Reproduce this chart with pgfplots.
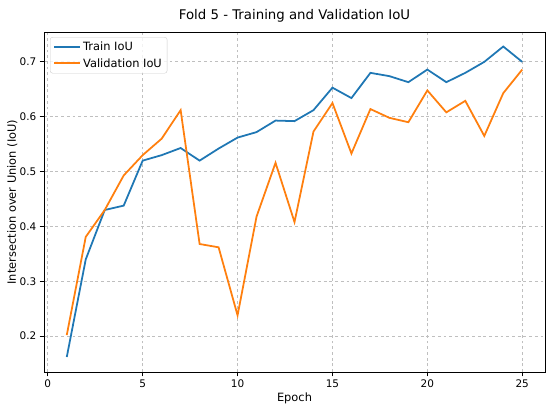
\documentclass[border=0pt]{standalone}
\usepackage{fontspec}
\setmainfont{DejaVu Sans}
\usepackage{pgfplots}
\pgfplotsset{compat=1.18}
\definecolor{tabblue}{HTML}{1F77B4}
\definecolor{taborange}{HTML}{FF7F0E}
\begin{document}
\begin{tikzpicture}[x=1.0473bp,y=1.0473bp]
\path[use as bounding box] (-44,-39) rectangle (506,372);
\begin{axis}[
  at={(0,0)}, anchor=south west,
  scale only axis,
  width=524.7bp, height=356.1bp,
  xmin=-0.2, xmax=26.2,
  ymin=0.1347, ymax=0.7545,
  xtick={0,5,10,15,20,25},
  ytick={0.2,0.3,0.4,0.5,0.6,0.7},
  yticklabel style={/pgf/number format/.cd,fixed,precision=1},
  /pgf/number format/assume math mode=true,
  tick align=outside,
  tick pos=left,
  major tick length=4.5bp,
  tick style={black, line width=0.9bp},
  axis line style={line width=0.9bp, black},
  ticklabel style={font=\fontsize{11}{13}\selectfont},
  grid=major,
  grid style={dashed, color=black!25, line width=0.8bp},
  title={Fold 5 - Training and Validation IoU},
  title style={font=\fontsize{14}{16}\selectfont, yshift=1bp},
  xlabel={Epoch},
  ylabel={Intersection over Union (IoU)},
  label style={font=\fontsize{12}{14}\selectfont},
  xlabel style={yshift=1bp},
  ylabel style={yshift=-4.5bp},
  legend style={font=\fontsize{12}{14}\selectfont, draw=black!20, rounded corners=2.5bp, fill=white, fill opacity=0.8, text opacity=1, at={(0.012,0.985)}, anchor=north west, inner xsep=3.5bp, inner ysep=3bp, row sep=2.5bp},
  legend cell align=left,
  legend image code/.code={\draw[#1, line width=2bp] (0bp,0bp) -- (27bp,0bp);},
]
\addplot[tabblue, line width=1.85bp] coordinates {
(1,0.162) (2,0.340) (3,0.430) (4,0.438) (5,0.520) (6,0.530) (7,0.543) (8,0.520) (9,0.542) (10,0.562) (11,0.572) (12,0.593) (13,0.592) (14,0.612) (15,0.653) (16,0.634) (17,0.680) (18,0.674) (19,0.663) (20,0.686) (21,0.663) (22,0.680) (23,0.700) (24,0.728) (25,0.700)
};
\addlegendentry{Train IoU}
\addplot[taborange, line width=1.85bp] coordinates {
(1,0.202) (2,0.381) (3,0.430) (4,0.493) (5,0.530) (6,0.560) (7,0.612) (8,0.368) (9,0.362) (10,0.238) (11,0.418) (12,0.516) (13,0.408) (14,0.573) (15,0.625) (16,0.533) (17,0.614) (18,0.598) (19,0.590) (20,0.648) (21,0.608) (22,0.629) (23,0.565) (24,0.643) (25,0.686)
};
\addlegendentry{Validation IoU}
\end{axis}
\end{tikzpicture}
\end{document}
